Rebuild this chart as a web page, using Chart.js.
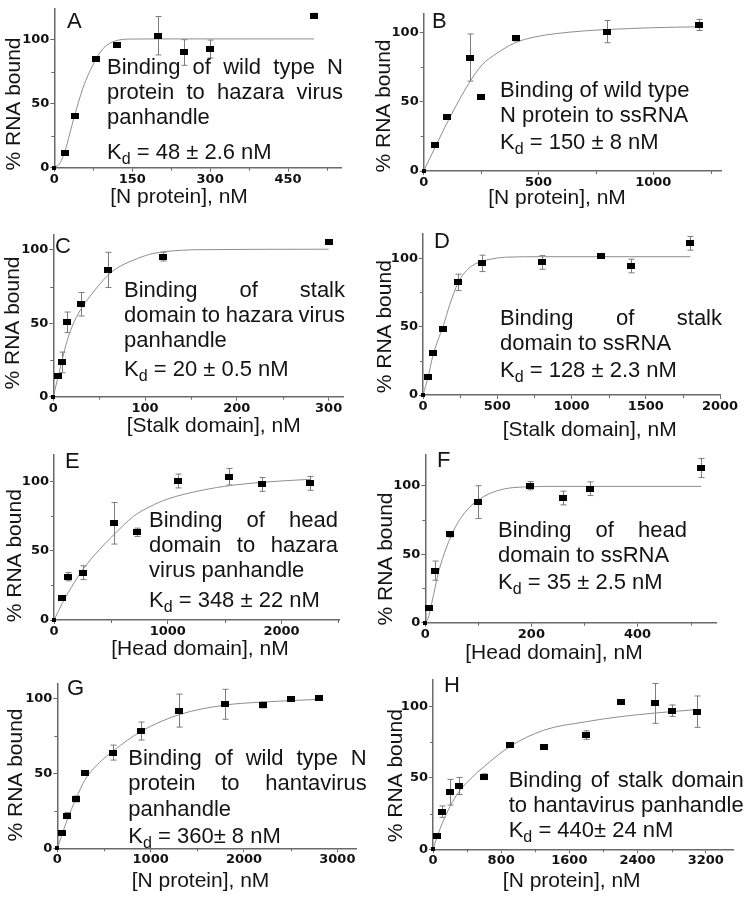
<!DOCTYPE html>
<html><head><meta charset="utf-8">
<script src="https://cdn.jsdelivr.net/npm/chart.js@4/dist/chart.umd.min.js"></script>
<style>
html,body{margin:0;padding:0;background:#fff;}
#wrap{position:relative;width:745px;height:899px;overflow:hidden;background:#fff;}
#wrap canvas{position:absolute;left:0;top:0;}
</style></head><body><div id="wrap"></div>
<script>
// ---------- DATA ----------
// Panel A
const aX = [0, 20, 40, 80, 120, 200, 250, 300, 500];
const aY = [0, 11.8, 40, 84.5, 95.5, 103, 89.9, 92.6, 118.5];
const aErr = [0, 1, 1, 1.5, 1, 15, 10, 7, 2];
const aFitX = [0, 10, 17, 25, 30, 38, 55, 78, 94, 118, 150, 200, 500];
const aFitY = [0, 3, 9, 19, 27, 39, 62, 83, 93, 99, 100.4, 100.5, 100.5];
// Panel B
const bX = [0, 50, 100, 200, 250, 400, 800, 1200];
const bY = [0, 18.5, 38.7, 81.8, 53.6, 95.7, 100.5, 105.3];
const bErr = [0, 1, 1, 17, 0, 2, 8, 4];
const bFitX = [0, 51, 112, 196, 254, 320, 399, 480, 573, 700, 800, 1000, 1200];
const bFitY = [0, 17.6, 38, 63, 76.5, 85, 92.5, 96.5, 99, 101, 102, 103.3, 104];
// Panel C
const cX = [0, 5, 10, 15, 30, 60, 120, 300];
const cY = [0, 14.1, 23.4, 50.7, 63, 86.4, 95.5, 105.7];
const cErr = [0, 1, 7, 7, 8, 12, 3, 1];
const cFitX = [0, 5, 10, 15, 20, 25, 33, 42, 51, 60, 69, 87, 105, 124, 160, 300];
const cFitY = [0, 13, 26, 38, 47, 54, 62.5, 70, 77, 83, 87.5, 93, 97, 99, 100.2, 100.5];
// Panel D
const dX = [0, 34, 67, 135, 236, 400, 800, 1200, 1400, 1800];
const dY = [0, 13.4, 31, 48.5, 82.4, 96.3, 97, 101.7, 94.4, 111];
const dErr = [0, 1, 1, 1, 6, 6, 5, 1, 5, 5];
const dFitX = [0, 34, 67, 100, 135, 180, 236, 280, 330, 400, 450, 550, 800, 1800];
const dFitY = [0, 13, 29, 40, 50, 66, 82, 89.5, 94.5, 98, 99.3, 100.8, 101.2, 101.2];
// Panel E
const eX = [0, 73, 126, 252, 530, 727, 1093, 1541, 1825, 2250];
const eY = [0, 15.7, 31.3, 34.2, 69.9, 63.4, 100.5, 103.6, 98, 98.8];
const eErr = [0, 1, 3, 5, 15, 3, 5, 6, 5, 5];
const eFitX = [0, 73, 126, 258, 400, 530, 700, 844, 1000, 1283, 1576, 1900, 2250];
const eFitY = [0, 12, 20, 37, 51, 62, 75, 82, 87.5, 93.5, 97.5, 100, 101.7];
// Panel F
const fX = [0, 7.6, 19, 47, 100, 197, 260, 310, 520];
const fY = [0, 10.5, 38, 64.6, 88, 100, 91, 97.8, 112.9];
const fErr = [0, 1, 7, 2, 12, 3, 5, 5, 7];
const fFitX = [0, 5, 12, 25, 40, 57, 70, 88, 120, 151, 183, 250, 520];
const fFitY = [0, 3, 14, 37, 55, 70, 78, 86, 94, 97.8, 99, 99.5, 99.5];
// Panel G
const gX = [0, 50, 100, 200, 300, 600, 900, 1300, 1800, 2200, 2500, 2800];
const gY = [0, 10.4, 21.8, 32.9, 50, 63.8, 78.2, 91.8, 96, 95.6, 99.3, 100.4];
const gErr = [0, 1, 2, 2, 1, 5, 6, 11, 10, 2, 1, 1];
const gFitX = [0, 50, 100, 200, 300, 450, 600, 900, 1300, 1800, 2200, 2800];
const gFitY = [0, 9, 18, 33, 46, 57, 65, 78, 89, 95.5, 97.5, 99.3];
// Panel H
const hX = [0, 50, 100, 200, 300, 600, 900, 1300, 1800, 2200, 2600, 2800, 3100];
const hY = [0, 9.3, 26.4, 40, 44.4, 50.9, 73.1, 71.5, 80.1, 103.5, 102.3, 97.2, 96.5];
const hErr = [0, 1, 4, 9, 6, 2, 1, 1, 3, 1, 14, 4, 11];
const hFitX = [0, 50, 100, 200, 300, 450, 600, 900, 1300, 1800, 2200, 2600, 3100];
const hFitY = [0, 9, 17, 30, 40, 50, 58, 72, 83.5, 89.5, 93, 95.5, 98];

// Tick labels (major) and minor tick positions
const aTicks = [0, 150, 300, 450],            aMinor = [75, 225, 375, 525];
const bTicks = [0, 500, 1000],                bMinor = [250, 750, 1250];
const cTicks = [0, 100, 200, 300],            cMinor = [50, 150, 250];
const dTicks = [0, 500, 1000, 1500, 2000],    dMinor = [250, 750, 1250, 1750];
const eTicks = [0, 1000, 2000],               eMinor = [500, 1500, 2500];
const fTicks = [0, 200, 400],                 fMinor = [100, 300, 500];
const gTicks = [0, 1000, 2000, 3000],         gMinor = [500, 1500, 2500];
const hTicks = [0, 800, 1600, 2400, 3200],    hMinor = [400, 1200, 2000, 2800];
const yTicks = [0, 50, 100],                  yMinor = [25, 75];

// Text
const yTitle = "% RNA bound";
const xTitles = ["[N protein], nM", "[N protein], nM", "[Stalk domain], nM", "[Stalk domain], nM",
                 "[Head domain], nM", "[Head domain], nM", "[N protein], nM", "[N protein], nM"];
const letters = ["A", "B", "C", "D", "E", "F", "G", "H"];
const notes = [
  ["Binding of wild type N", "protein to hazara virus", "panhandle"],
  ["Binding of wild type", "N protein to ssRNA"],
  ["Binding of stalk", "domain to hazara virus", "panhandle"],
  ["Binding of stalk", "domain to ssRNA"],
  ["Binding of head", "domain to hazara", "virus panhandle"],
  ["Binding of head", "domain to ssRNA"],
  ["Binding of wild type N", "protein to hantavirus", "panhandle"],
  ["Binding of stalk domain", "to hantavirus panhandle"]
];
const kdTexts = ["= 48 ± 2.6 nM", "= 150 ± 8 nM", "= 20 ± 0.5 nM", "= 128 ± 2.3 nM",
                 "= 348 ± 22 nM", "= 35 ± 2.5 nM", "= 360± 8 nM", "= 440± 24 nM"];
// Axis ranges
const xMaxes = [552, 1295, 316, 2000, 2505, 548, 3200, 3520];
const yMaxes = [124, 113.7, 110.2, 117.8, 119.3, 122.4, 110, 118.7];

// ---------- LAYOUT (pixel geometry) ----------
const W = 745, H = 899, YW = 40, XH = 30;
const geo = [
  {left:54.3, top:0, right:341, bottom:167.7, letter:[67,28], xt:[179,197], yt:[14,104], tx:107, tr:343, bl:[74,99,124,159], just:[1,1,0]},
  {left:423.7, top:13.3, right:721, bottom:171, letter:[432,28], xt:[557,198], yt:[384.5,106], tx:500, tr:null, bl:[96.7,121.7,149.3], just:[0,0]},
  {left:53.3, top:235, right:343.3, bottom:396.7, letter:[55,253], xt:[213.7,426], yt:[13,323], tx:124, tr:345, bl:[296.7,321.7,347.3,375.7], just:[1,1,0]},
  {left:423, top:234, right:720, bottom:395, letter:[434,248], xt:[589.7,430], yt:[385,326.7], tx:500, tr:722, bl:[325,350,376.7], just:[1,0]},
  {left:54, top:455, right:339, bottom:620, letter:[65,468], xt:[200,649], yt:[15,555.7], tx:149, tr:338, bl:[527.3,552.3,577.3,606.7], just:[1,1,0]},
  {left:425.3, top:455, right:716, bottom:622.7, letter:[437,466.7], xt:[554,653], yt:[386,559], tx:498, tr:687, bl:[536.7,561.7,589.3], just:[1,0]},
  {left:57.3, top:683.3, right:356, bottom:848.3, letter:[67,695], xt:[200.5,881], yt:[16,775], tx:128.3, tr:366.7, bl:[765,790,815.7,843.3], just:[1,1,0]},
  {left:433, top:680, right:733, bottom:849.3, letter:[444,691.7], xt:[571.7,881], yt:[396,775.7], tx:508.7, tr:743.7, bl:[786.7,811.7,836.7], just:[1,1]}
];
const series = [
  [aX,aY,aErr,aFitX,aFitY],[bX,bY,bErr,bFitX,bFitY],[cX,cY,cErr,cFitX,cFitY],[dX,dY,dErr,dFitX,dFitY],
  [eX,eY,eErr,eFitX,eFitY],[fX,fY,fErr,fFitX,fFitY],[gX,gY,gErr,gFitX,gFitY],[hX,hY,hErr,hFitX,hFitY]
];
const xTickSets = [[aTicks,aMinor],[bTicks,bMinor],[cTicks,cMinor],[dTicks,dMinor],
                   [eTicks,eMinor],[fTicks,fMinor],[gTicks,gMinor],[hTicks,hMinor]];

const FONT = '"Liberation Sans", Arial, Helvetica, sans-serif';
const TXT = '#141414';
const AXIS = '#6a6a6a';
function rectImg(w,h){const c=document.createElement('canvas');c.width=w;c.height=h;const g=c.getContext('2d');g.fillStyle='#000';g.fillRect(0,0,w,h);return c;}
const bigMark = rectImg(8,6), smallMark = rectImg(4,4);

function drawTextLine(ctx, text, x, y, right, justify){
  if(!justify || right == null){ ctx.fillText(text, x, y); return; }
  const words = text.split(' ');
  if(words.length < 2){ ctx.fillText(text, x, y); return; }
  const ws = words.map(w => ctx.measureText(w).width);
  const sum = ws.reduce((a,b)=>a+b,0);
  const gap = (right - x - sum) / (words.length - 1);
  let cx = x;
  words.forEach((w,i)=>{ ctx.fillText(w, cx, y); cx += ws[i] + gap; });
}

const wrap = document.getElementById('wrap');
for(let p=0;p<8;p++){
  const g = geo[p];
  const [xs, ys, err, fx, fy] = series[p];
  const [xMaj, xMin] = xTickSets[p];
  const cv = document.createElement('canvas');
  cv.width = W; cv.height = H; cv.style.width = W+'px'; cv.style.height = H+'px';
  wrap.appendChild(cv);
  const decor = {
    id: 'decor'+p,
    beforeDatasetsDraw(chart){
      const ctx = chart.ctx, sx = chart.scales.x, sy = chart.scales.y;
      ctx.save(); ctx.strokeStyle = '#7c7c7c'; ctx.lineWidth = 1;
      xs.forEach((xv,i)=>{
        const e = err[i]; if(!e || e < 1.5) return;
        const px = Math.round(sx.getPixelForValue(xv)) + 0.5;
        const y1 = sy.getPixelForValue(ys[i]-e), y2 = sy.getPixelForValue(ys[i]+e);
        ctx.beginPath();
        ctx.moveTo(px,y1); ctx.lineTo(px,y2);
        ctx.moveTo(px-3,y1); ctx.lineTo(px+3,y1);
        ctx.moveTo(px-3,y2); ctx.lineTo(px+3,y2);
        ctx.stroke();
      });
      // minor ticks
      ctx.strokeStyle = AXIS; ctx.lineWidth = 1;
      const by = chart.chartArea.bottom, lx = chart.chartArea.left;
      ctx.beginPath();
      xMin.forEach(v=>{ const px = Math.round(sx.getPixelForValue(v)) + 0.5; ctx.moveTo(px, by); ctx.lineTo(px, by+3); });
      yMinor.forEach(v=>{ const py = Math.round(sy.getPixelForValue(v)) + 0.5; ctx.moveTo(lx, py); ctx.lineTo(lx-3, py); });
      ctx.stroke();
      ctx.restore();
    },
    afterDraw(chart){
      const ctx = chart.ctx;
      ctx.save();
      ctx.fillStyle = TXT;
      ctx.font = '22px ' + FONT; ctx.textBaseline = 'alphabetic'; ctx.textAlign = 'left';
      ctx.fillText(letters[p], g.letter[0], g.letter[1]);
      notes[p].forEach((t,i)=> drawTextLine(ctx, t, g.tx, g.bl[i], g.tr, g.just[i]));
      const kb = g.bl[g.bl.length-1];
      ctx.fillText('K', g.tx, kb);
      const kw = ctx.measureText('K').width;
      ctx.font = '16px ' + FONT;
      ctx.fillText('d', g.tx + kw, kb + 5);
      const dw = ctx.measureText('d').width;
      ctx.font = '22px ' + FONT;
      ctx.fillText(' ' + kdTexts[p], g.tx + kw + dw, kb);
      ctx.font = '21px ' + FONT; ctx.textAlign = 'center'; ctx.textBaseline = 'middle';
      ctx.fillText(xTitles[p], g.xt[0], g.xt[1]);
      ctx.translate(g.yt[0], g.yt[1]); ctx.rotate(-Math.PI/2);
      ctx.fillText(yTitle, 0, 0);
      ctx.restore();
    }
  };
  const tickFont = {family:'"DejaVu Sans", Verdana, sans-serif', size:13, weight:'bold'};
  new Chart(cv, {
    type: 'scatter',
    data: { datasets: [
      { data: fx.map((v,i)=>({x:v, y:fy[i]})), showLine:true, borderColor:'#8e8e8e', borderWidth:1,
        pointRadius:0, cubicInterpolationMode:'monotone', fill:false, order:1 },
      { data: xs.map((v,i)=>({x:v, y:ys[i]})), showLine:false, pointRadius:4,
        pointStyle:(c)=> c.dataIndex===0 ? smallMark : bigMark, clip:false, order:0 }
    ]},
    options: {
      responsive:false, animation:false, devicePixelRatio:1, events:[],
      layout:{ autoPadding:false, padding:{ left:g.left-YW, top:g.top, right:W-g.right, bottom:H-g.bottom-XH } },
      plugins:{ legend:{display:false}, tooltip:{enabled:false}, title:{display:false} },
      scales:{
        x:{ type:'linear', min:0, max:xMaxes[p], afterFit:(s)=>{ s.height = XH; },
            afterBuildTicks:(s)=>{ s.ticks = xMaj.map(v=>({value:v})); },
            ticks:{ autoSkip:false, maxRotation:0, padding:0, font:tickFont, color:'#111',
                    callback:(v)=> String(v) },
            grid:{ display:true, drawOnChartArea:false, drawTicks:true, tickLength:4, color:AXIS, lineWidth:1 },
            border:{ display:true, color:AXIS, width:1.5 } },
        y:{ type:'linear', min:0, max:yMaxes[p], afterFit:(s)=>{ s.width = YW; },
            afterBuildTicks:(s)=>{ s.ticks = yTicks.map(v=>({value:v})); },
            ticks:{ autoSkip:false, padding:1, font:tickFont, color:'#111', callback:(v)=> String(v) },
            grid:{ display:true, drawOnChartArea:false, drawTicks:true, tickLength:4, color:AXIS, lineWidth:1 },
            border:{ display:true, color:AXIS, width:1.5 } }
      }
    },
    plugins:[decor]
  });
}
</script>
</body></html>
